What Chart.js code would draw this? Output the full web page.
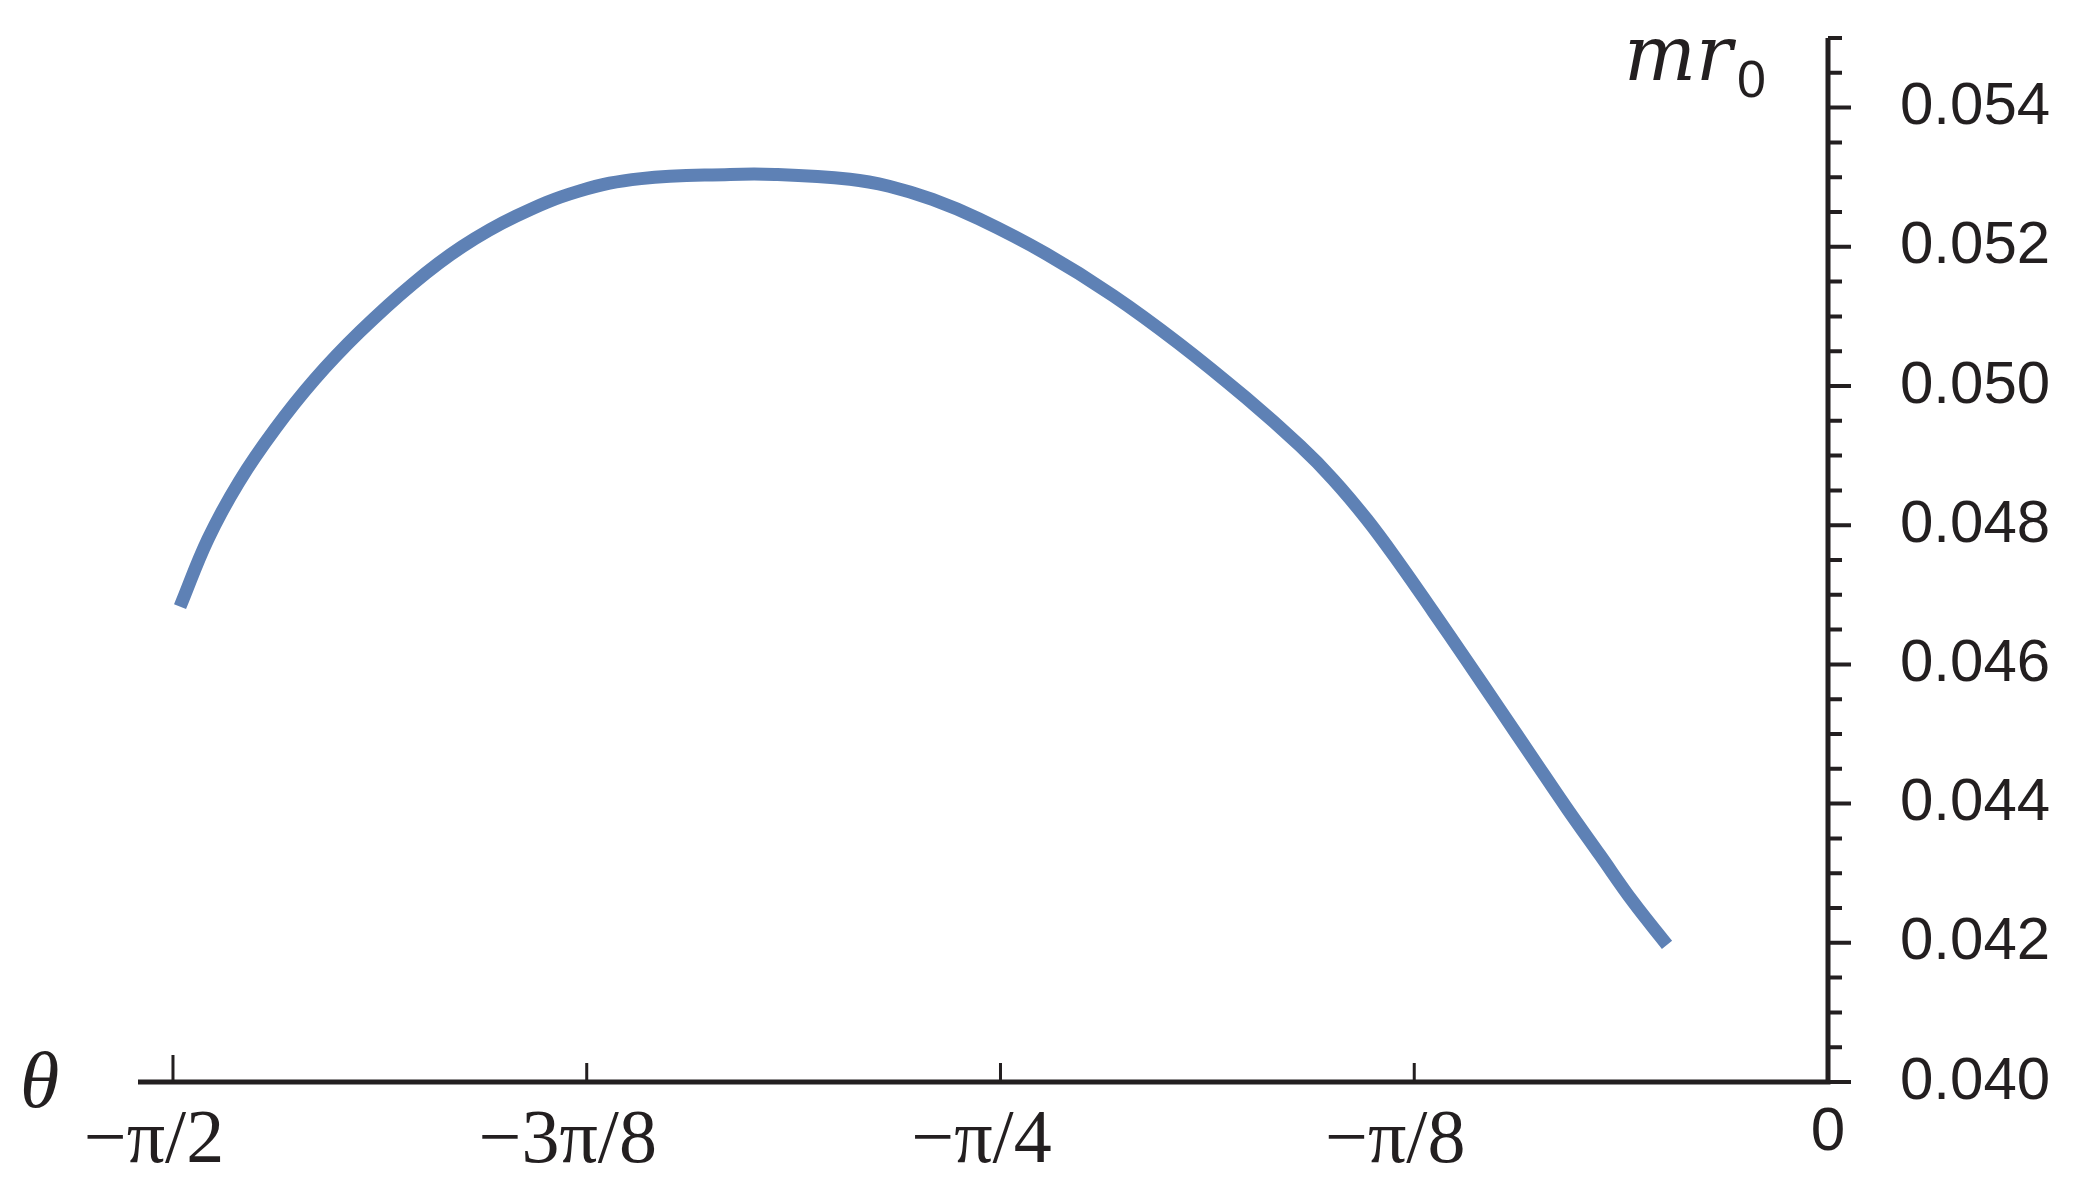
<!DOCTYPE html>
<html><head><meta charset="utf-8">
<script src="https://cdn.jsdelivr.net/npm/chart.js@4/dist/chart.umd.min.js"></script>
<style>html,body{margin:0;padding:0;background:#fff;overflow:hidden} canvas{display:block}</style>
</head><body>
<canvas id="c" width="2075" height="1185" style="width:2075px;height:1185px"></canvas>
<script>
// ---- data ----
const thetaValues = [-1.5641,-1.5376,-1.5082,-1.4740,-1.4360,-1.3933,-1.3430,-1.2965,-1.2452,-1.1855,-1.1266,-1.0421,-0.9994,-0.9283,-0.8912,-0.8500,-0.8058,-0.7422,-0.6786,-0.6160,-0.5524,-0.5011,-0.4698,-0.4375,-0.4062,-0.3749,-0.3427,-0.3113,-0.2800,-0.2477,-0.2164,-0.1851,-0.1528];
const mrValues = [0.04683,0.04780,0.04862,0.04938,0.05010,0.05078,0.05147,0.05200,0.05244,0.05280,0.05298,0.05304,0.05304,0.05297,0.05287,0.05268,0.05240,0.05190,0.05130,0.05061,0.04983,0.04914,0.04866,0.04808,0.04744,0.04676,0.04605,0.04535,0.04465,0.04393,0.04326,0.04259,0.04197];
const xTickValues = [-Math.PI/2, -3*Math.PI/8, -Math.PI/4, -Math.PI/8, 0];
const xTickLabels = ['\u2212\u03c0/2', '\u22123\u03c0/8', '\u2212\u03c0/4', '\u2212\u03c0/8', '0'];
const yTickValues = [0.040, 0.042, 0.044, 0.046, 0.048, 0.050, 0.052, 0.054];
const yTickLabels = ['0.040', '0.042', '0.044', '0.046', '0.048', '0.050', '0.052', '0.054'];
const yMinorStep = 0.0005;
const xMin = -1.604, xMax = 0, yMin = 0.040, yMax = 0.055;
const xTitle = '\u03b8';
const yTitleMain = 'mr';
const yTitleSub = '0';

const AXIS = '#231f20';

const axisPlugin = {
  id: 'axisPlugin',
  afterDraw(chart) {
    const ctx = chart.ctx, xs = chart.scales.x, ys = chart.scales.y;
    const xr = xs.getPixelForValue(xMax);
    const yb = ys.getPixelForValue(yMin);
    const yt = ys.getPixelForValue(yMax);
    ctx.save();
    ctx.strokeStyle = AXIS;
    ctx.lineCap = 'butt';
    ctx.lineWidth = 5;
    ctx.beginPath();
    ctx.moveTo(xs.left, yb); ctx.lineTo(xr + 2.5, yb);
    ctx.moveTo(xr, yt); ctx.lineTo(xr, yb + 2.5);
    ctx.stroke();
    ctx.lineWidth = 4;
    ctx.beginPath();
    const n = Math.round((yMax - yMin) / yMinorStep);
    for (let i = 0; i <= n; i++) {
      const v = yMin + i * yMinorStep;
      const isMajor = yTickValues.some(t => Math.abs(t - v) < 1e-9);
      const py = ys.getPixelForValue(v);
      ctx.moveTo(xr, py); ctx.lineTo(xr + (isMajor ? 23 : 14), py);
    }
    ctx.stroke();
    ctx.lineWidth = 3;
    ctx.beginPath();
    xTickValues.forEach((v, i) => {
      if (v === xMax) return;
      const px = xs.getPixelForValue(v);
      ctx.moveTo(px, yb); ctx.lineTo(px, yb - (i === 0 ? 27 : 19));
    });
    ctx.stroke();
    ctx.fillStyle = AXIS;
    ctx.textBaseline = 'alphabetic';
    ctx.textAlign = 'left';
    ctx.font = 'italic 80px "Liberation Serif"';
    ctx.fillText(xTitle, 20, 1107);
    ctx.font = 'italic 76px "DejaVu Serif"';
    ctx.fillText(yTitleMain, 1624, 80);
    ctx.font = '52px "Liberation Sans"';
    ctx.fillText(yTitleSub, 1737, 97);
    ctx.restore();
  }
};

function noPad(s) { s.paddingTop = 0; s.paddingBottom = 0; s.paddingLeft = 0; s.paddingRight = 0; }

new Chart(document.getElementById('c'), {
  type: 'scatter',
  data: {
    datasets: [{
      data: thetaValues.map((t, i) => ({ x: t, y: mrValues[i] })),
      showLine: true,
      borderColor: '#5e81b5',
      backgroundColor: '#5e81b5',
      borderWidth: 13,
      borderCapStyle: 'butt',
      borderJoinStyle: 'round',
      pointRadius: 0,
      tension: 0.4,
      fill: false
    }]
  },
  options: {
    responsive: false,
    animation: false,
    layout: { padding: { left: 138, top: 38, right: 0, bottom: 0 } },
    plugins: { legend: { display: false }, tooltip: { enabled: false }, title: { display: false } },
    scales: {
      x: {
        type: 'linear', position: 'bottom', min: xMin, max: xMax,
        grid: { display: false, drawTicks: false, tickLength: 0 },
        border: { display: false },
        afterBuildTicks: s => { s.ticks = xTickValues.map(v => ({ value: v })); },
        afterFit: s => { s.height = 103; noPad(s); },
        ticks: {
          autoSkip: false, maxRotation: 0, padding: 14, color: AXIS,
          font: ctx => (ctx.index === xTickValues.length - 1)
            ? { family: '"Liberation Sans"', size: 62 }
            : { family: '"Liberation Serif"', size: 76 },
          callback: (v, i) => (i === xTickLabels.length - 1) ? xTickLabels[i] : xTickLabels[i] + '\u2002'
        }
      },
      y: {
        type: 'linear', position: 'right', min: yMin, max: yMax,
        grid: { display: false, drawTicks: false, tickLength: 0 },
        border: { display: false },
        afterBuildTicks: s => { s.ticks = yTickValues.map(v => ({ value: v })); },
        afterFit: s => { s.width = 247; noPad(s); },
        ticks: {
          autoSkip: false, padding: 72, color: AXIS,
          font: { family: '"Liberation Sans"', size: 60 },
          callback: (v, i) => yTickLabels[i]
        }
      }
    }
  },
  plugins: [axisPlugin]
});
</script>
</body></html>
